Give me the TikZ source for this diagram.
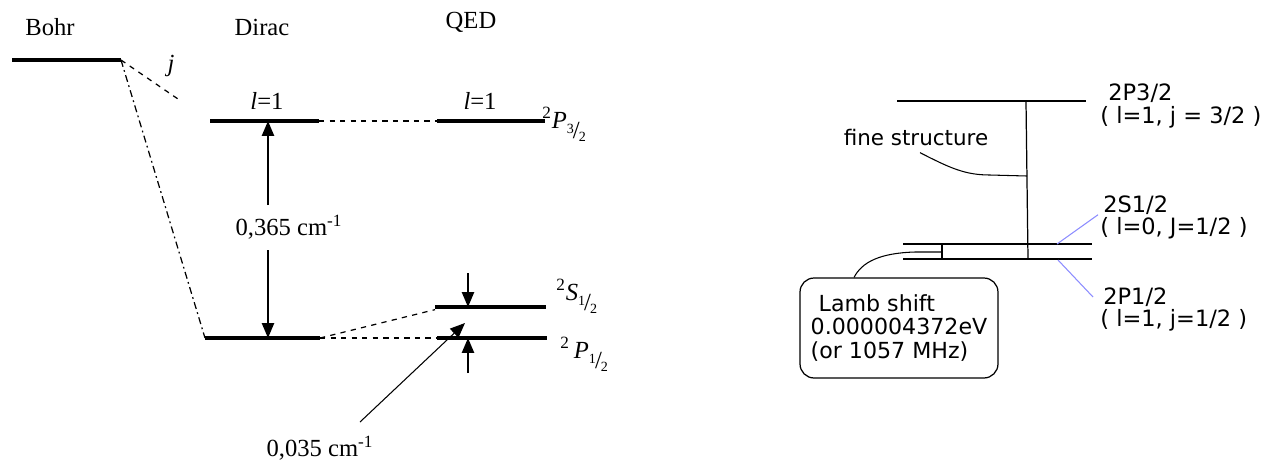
\documentclass[tikz,border=0pt]{standalone}
\usepackage{fontspec}
\setmainfont{Liberation Serif}
\newfontfamily\tahoma{DejaVu Sans}
\usetikzlibrary{arrows.meta,positioning}
\newcommand{\slfrac}[2]{\raisebox{0.45ex}{\footnotesize#1}\kern-0.04em/\kern-0.04em\raisebox{-0.3ex}{\footnotesize#2}}
\newcommand{\term}[3]{\textsuperscript{#1}\textit{#2}\raisebox{-0.9ex}{#3}}

\begin{document}
\begin{tikzpicture}[x=0.02cm,y=-0.02cm,
  level/.style={line width=2.8pt},
  thinlevel/.style={line width=1.2pt},
  link/.style={dashed, line width=0.7pt},
  arr/.style={-{Triangle[length=8.5pt,width=7pt]}, line width=0.8pt},
  lbl/.style={font=\fontsize{14}{16}\selectfont, inner sep=0pt},
  note/.style={font=\tahoma\fontsize{12.8}{14}\selectfont, inner sep=0pt, anchor=west},
  tick/.style={draw=blue!45, line width=0.6pt}]
\useasboundingbox (0,0) rectangle (1272,461);

  % Left: Bohr -> Dirac -> QED
  \node[lbl] (bohr)  at (50,27)  {Bohr};
  \node[lbl] (dirac) at (262,27) {Dirac};
  \node[lbl] (qed)   at (471,22) {QED};

  \coordinate (bohrL) at (12,60);   \coordinate (bohrR) at (121,60);
  \coordinate (d1L) at (210,121);   \coordinate (d1R) at (319,121);
  \coordinate (q3L) at (437,121);   \coordinate (q3R) at (545,121);
  \coordinate (d2L) at (205,338);   \coordinate (d2R) at (320,338);
  \coordinate (qsL) at (435,307);   \coordinate (qsR) at (546,307);
  \coordinate (qpL) at (437,338);   \coordinate (qpR) at (547,338);

  \draw[level] (bohrL) -- (bohrR);
  \draw[level] (d1L) -- (d1R);
  \draw[level] (q3L) -- (q3R);
  \draw[level] (d2L) -- (d2R);
  \draw[level] (qsL) -- (qsR);
  \draw[level] (qpL) -- (qpR);

  % Splitting lines
  \coordinate (jend) at (178,99);
  \draw[link] (bohrR) -- (jend);
  \node[lbl] (jlbl) at (171,66) {\textit{j}};
  \draw[dash pattern=on 4pt off 2pt on 1pt off 2pt, line width=0.7pt] (bohrR) -- (d2L);
  \draw[link] (d1R) -- (q3L);
  \draw[link] (d2R) -- ([yshift=-1.5pt]qsL);
  \draw[link] (d2R) -- (qpL);

  \node[lbl] (l1d) at (267,101) {\textit{l}=1};
  \node[lbl] (l1q) at (480,101) {\textit{l}=1};
  \node[lbl, anchor=base west] (p32) at (542,128) {\term{2}{P}{\slfrac32}};
  \node[lbl, anchor=base west] (s12) at (556,300) {\term{2}{S}{\slfrac12}};
  \node[lbl, anchor=base west] (p12) at (560,358) {\textsuperscript{2}\,\textit{P}\raisebox{-0.9ex}{\slfrac12}};

  % Fine structure gap
  \node[lbl] (big) at (289,227) {0,365 cm\textsuperscript{-1}};
  \coordinate (bigT) at (268,205);
  \coordinate (bigB) at (268,250);
  \draw[arr] (bigT) -- (bigT |- d1L);
  \draw[arr] (bigB) -- (bigB |- d2L);

  % Lamb gap
  \coordinate (lsT) at (468,273);
  \coordinate (lsB) at (468,373);
  \draw[arr] (lsT) -- (lsT |- qsL);
  \draw[arr] (lsB) -- (lsB |- qpL);
  \node[lbl] (small) at (320,448) {0,035 cm\textsuperscript{-1}};
  \coordinate (smallS) at (360,422);
  \coordinate (smallT) at (465,323);
  \draw[arr, line width=0.6pt] (smallS) -- (smallT);

  % Right: n=2 levels
  \coordinate (p3L) at (897,101);   \coordinate (p3R) at (1086,101);
  \coordinate (s1L) at (903,244);   \coordinate (s1R) at (1092,244);
  \coordinate (p1L) at (903,259);   \coordinate (p1R) at (1092,259);
  \draw[thinlevel] (p3L) -- (p3R);
  \draw[thinlevel] (s1L) -- (s1R);
  \draw[thinlevel] (p1L) -- (p1R);

  \coordinate (fsT) at (1026,101);
  \coordinate (fsB) at (1028,259);
  \coordinate (fsJ) at (1027,176);
  \draw[line width=0.7pt] (fsT) -- (fsB);
  \node[note, anchor=center, font=\tahoma\fontsize{12.2}{14}\selectfont] (fine) at (916,138) {fine structure};
  \draw[line width=0.6pt] ([shift={(4,6)}]fine.south) .. controls (950,168) and (965,175) .. (990,175) -- (fsJ);

  \node[draw, rounded corners=8pt, minimum width=3.96cm, minimum height=2cm,
    align=left, line width=0.7pt, font=\tahoma\fontsize{12.6}{13.2}\selectfont]
    (lamb) at (899,328) {\hspace*{0.16cm}Lamb shift\\0.000004372eV\\(or 1057 MHz)};
  \coordinate (lambJ) at (942,252);
  \draw[line width=0.6pt] (lambJ |- s1L) -- (lambJ |- p1L);
  \draw[line width=0.6pt] ([xshift=-0.9cm]lamb.north) .. controls (862,262) and (880,253) .. (915,252) -- (lambJ);

  \node[note] (p3lbl) at (1108,93)  {2P3/2};
  \node[note] (p3qn)  at (1100,117) {( l=1, j = 3/2 )};
  \node[note] (s1lbl) at (1103,205) {2S1/2};
  \node[note] (s1qn)  at (1100,228) {( l=0, J=1/2 )};
  \node[note] (p1lbl) at (1103,297) {2P1/2};
  \node[note] (p1qn)  at (1100,320) {( l=1, j=1/2 )};

  \coordinate (s1tick) at (1057,244);
  \coordinate (p1tick) at (1058,260);
  \draw[tick] (s1tick) -- ([xshift=-0.1cm]s1lbl.south west);
  \draw[tick] (p1tick) -- ([xshift=-0.2cm]p1lbl.west);
\end{tikzpicture}
\end{document}
